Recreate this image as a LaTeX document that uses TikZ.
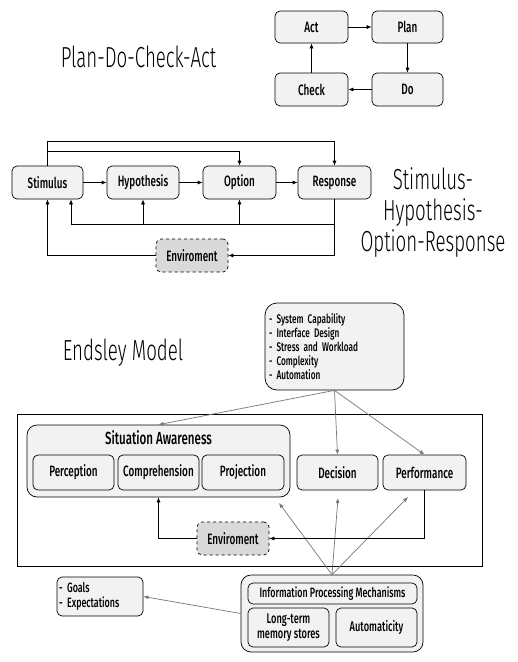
\documentclass[tikz,border=0pt]{standalone}
\usepackage{fontspec}
\setmainfont{Fira Sans Medium}[FakeStretch=0.66]
\newfontfamily\titlefont{Fira Sans Light}[FakeStretch=0.645]
\usetikzlibrary{arrows.meta}
\definecolor{boxgray}{HTML}{F2F2F2}
\definecolor{envgray}{HTML}{D9D9D9}
\definecolor{linegray}{HTML}{777777}
\begin{document}
\begin{tikzpicture}[x=1pt,y=-1pt,
  box/.style={draw, rounded corners=5pt, fill=boxgray, line width=0.7pt, inner sep=0pt,
    font=\fontsize{15}{17}\selectfont, align=center},
  envbox/.style={box, fill=envgray, dashed},
  arr/.style={-{Latex[length=5pt,width=4pt]}, line width=0.7pt},
  garr/.style={-{Latex[length=5pt,width=4pt]}, line width=0.7pt, draw=linegray, color=linegray},
  ttl/.style={font=\titlefont\fontsize{29}{31}\selectfont, align=center, inner sep=0pt},
  listtxt/.style={font=\fontsize{12.5}{14}\selectfont, align=left}
]
\useasboundingbox[fill=white] (0,0) rectangle (518,662);

% ---------- PDCA ----------
\node[ttl] (tpdca) at (138.5,57) {Plan-Do-Check-Act};
\node[box, minimum width=73pt, minimum height=32pt] (act) at (311.5,27) {Act};
\node[box, minimum width=71pt, minimum height=32pt] (plan) at (407.5,27) {Plan};
\node[box, minimum width=73pt, minimum height=33pt] (check) at (311.5,89.5) {Check};
\node[box, minimum width=71pt, minimum height=33pt] (do) at (407.5,89.5) {Do};
\draw[arr] (act) -- (plan);
\draw[arr] (plan) -- (do);
\draw[arr] (do) -- (check);
\draw[arr] (check) -- (act);

% ---------- SHOR ----------
\node[box, minimum width=71pt, minimum height=33pt] (stim) at (47.5,182.5) {Stimulus};
\node[box, minimum width=72pt, minimum height=33pt] (hyp) at (143,182.5) {Hypothesis};
\node[box, minimum width=73pt, minimum height=33pt] (opt) at (239.5,182.5) {Option};
\node[box, minimum width=73pt, minimum height=33pt] (resp) at (334.5,182.5) {Response};
\node[envbox, minimum width=72pt, minimum height=33pt] (env1) at (192,255.5) {Enviroment};
\node[ttl] (tshor) at (433,213) {Stimulus-\\Hypothesis-\\Option-Response};

\draw[arr] (stim) -- (hyp);
\draw[arr] (hyp) -- (opt);
\draw[arr] (opt) -- (resp);
\draw[arr] (stim.north) -- ++(0,-24) -| (resp.north);
\draw[arr] (stim.north) -- ++(0,-14) -| (opt.north);
\coordinate (fb) at (334.5,224);
\coordinate (fbl) at (71,224);
\draw[arr] (resp.south) -- (fb) -- (fbl) -- (fbl |- stim.south);
\draw[arr] (hyp.south |- fb) -- (hyp.south);
\draw[arr] (opt.south |- fb) -- (opt.south);
\draw[arr] (resp.south) |- (env1.east);
\draw[arr] (env1.west) -| (stim.south);

% ---------- Endsley ----------
\node[ttl] (tend) at (123,353) {Endsley Model};
\node[box, rounded corners=12pt, minimum width=139pt, minimum height=87pt,
      listtxt, text width=131pt] (fact) at (334.5,346.5)
  {- System Capability\\- Interface Design\\- Stress and Workload\\- Complexity\\- Automation};
\draw[line width=0.8pt] (17,414) rectangle (482,566);
\node[box, rounded corners=10pt, minimum width=263pt, minimum height=72pt] (sa) at (158.5,461) {};
\node[font=\fontsize{17.5}{19}\selectfont, inner sep=0pt] (satitle) at (158.5,438) {Situation Awareness};
\node[box, minimum width=81pt, minimum height=35pt] (perc) at (73.5,472.5) {Perception};
\node[box, minimum width=81pt, minimum height=35pt] (comp) at (158.5,472.5) {Comprehension};
\node[box, minimum width=82pt, minimum height=35pt] (proj) at (243,472.5) {Projection};
\node[box, minimum width=81pt, minimum height=35pt] (dec) at (337.5,472.5) {Decision};
\node[box, minimum width=83pt, minimum height=35pt] (perf) at (424.5,472.5) {Performance};
\node[envbox, minimum width=72pt, minimum height=33pt] (env2) at (233,538.5) {Enviroment};

\node[box, minimum width=86pt, minimum height=39pt, listtxt, font=\fontsize{13.5}{14.5}\selectfont,
      text width=82pt] (goals) at (100,596.5) {- Goals\\- Expectations};
\node[box, rounded corners=10pt, minimum width=182pt, minimum height=77pt] (info) at (332,613.5) {};
\node[box, minimum width=169pt, minimum height=21pt, font=\fontsize{13.5}{15}\selectfont] (ipm) at (332.5,593.5) {Information Processing Mechanisms};
\node[box, minimum width=81pt, minimum height=39pt, font=\fontsize{14}{14.5}\selectfont] (ltm) at (288.5,627.5) {Long-term\\memory stores};
\node[box, minimum width=81pt, minimum height=39pt, font=\fontsize{14}{14}\selectfont] (auto) at (376.5,627.5) {Automaticity};

\draw[garr] (fact.south) -- (sa.north);
\draw[garr] (fact.south) -- (dec.north);
\draw[garr] (fact.south) -- (perf.north);
\coordinate (saend) at (279,503);
\coordinate (decend) at (338,498);
\coordinate (perfend) at (408,497);
\draw[garr] (info.north) -- (saend);
\draw[garr] (info.north) -- (decend);
\draw[garr] (info.north) -- (perfend);
\draw[garr] (info.west) -- (goals.east);

\draw[arr] (perf.south) |- (env2.east);
\draw[arr] (env2.west) -| (sa.south);
\end{tikzpicture}
\end{document}
